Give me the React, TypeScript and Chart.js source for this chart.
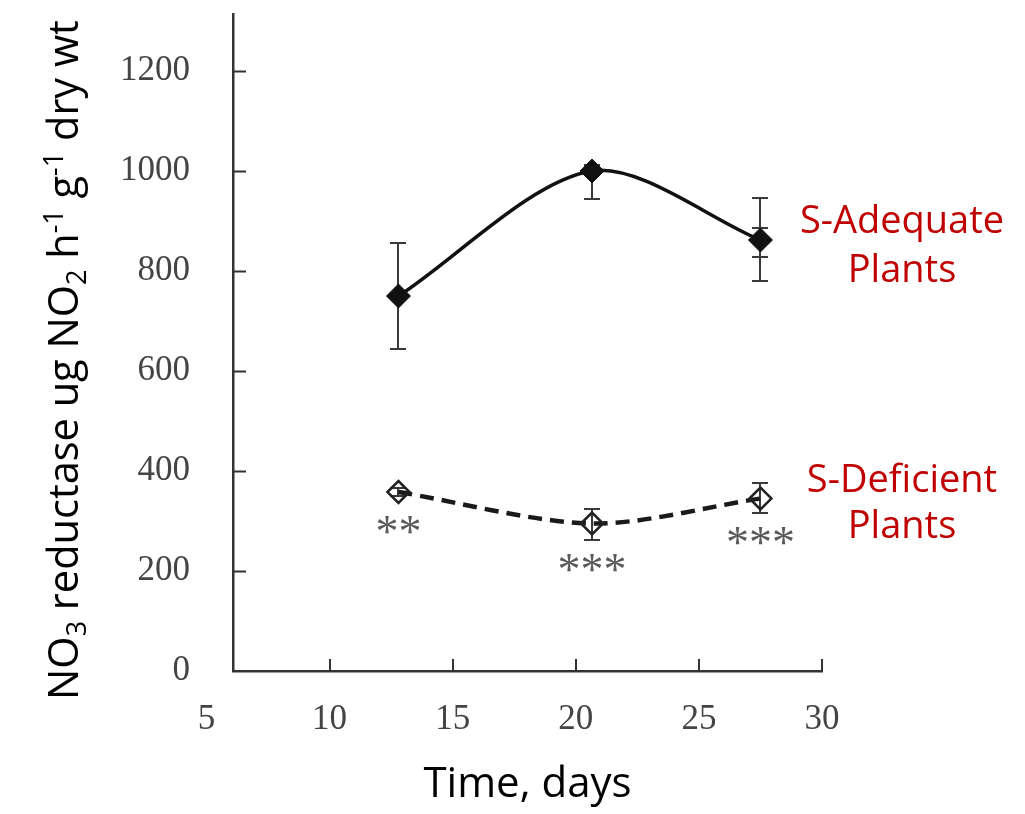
import React, { useEffect, useRef } from 'react';
import { Chart, registerables } from 'chart.js';

Chart.register(...registerables);

// ---------------- data ----------------
const days = [12.8, 20.66, 27.5];
const adequateMean = [750, 1000, 862];
const adequateLow = [644, 944, 780];
const adequateHigh = [857, 1012, 946];
const adequateInnerLow = [null, null, 828];
const adequateInnerHigh = [null, null, 886];
const deficientMean = [358, 295, 345];
const deficientLow = [350, 262, 316];
const deficientHigh = [366, 324, 377];
const significance = ['**', '***', '***'];
const xTickValues = [5, 10, 15, 20, 25, 30];
const yTickValues = [0, 200, 400, 600, 800, 1000, 1200];
const adequateLabel = ['S-Adequate', 'Plants'];
const deficientLabel = ['S-Deficient', 'Plants'];

// ---------------- layout constants ----------------
const W = 1025;
const H = 814;
const X_MIN = 6.08;
const X_MAX = 30;
const Y_MAX = 1314;
const LABEL_BASELINES_ADEQ = [876, 778];
const LABEL_BASELINES_DEF = [359, 266];
const SANS = '"Open Sans", "Noto Sans", sans-serif';
const SERIF = '"Liberation Serif", "Times New Roman", serif';

const yTitleParts: { t: string; s: number }[] = [
  { t: 'NO', s: 0 },
  { t: '3', s: -1 },
  { t: ' reductase ug NO', s: 0 },
  { t: '2', s: -1 },
  { t: ' h', s: 0 },
  { t: '-1', s: 1 },
  { t: ' g', s: 0 },
  { t: '-1', s: 1 },
  { t: ' dry wt', s: 0 },
];

const decorPlugin = {
  id: 'decor',
  beforeDatasetsDraw(chart: any) {
    const ctx = chart.ctx;
    const xs = chart.scales.x;
    const ys = chart.scales.y;
    const cap = 8;
    const drawBar = (x: number, lo: number, hi: number) => {
      const px = Math.round(xs.getPixelForValue(x));
      const pl = Math.round(ys.getPixelForValue(lo));
      const ph = Math.round(ys.getPixelForValue(hi));
      ctx.beginPath();
      ctx.moveTo(px, pl);
      ctx.lineTo(px, ph);
      ctx.moveTo(px - cap, pl);
      ctx.lineTo(px + cap, pl);
      ctx.moveTo(px - cap, ph);
      ctx.lineTo(px + cap, ph);
      ctx.stroke();
    };
    ctx.save();
    ctx.strokeStyle = '#3a3a3a';
    ctx.lineWidth = 2;
    days.forEach((d, j) => {
      drawBar(d, adequateLow[j], adequateHigh[j]);
      if (adequateInnerLow[j] != null && adequateInnerHigh[j] != null) {
        drawBar(d, adequateInnerLow[j] as number, adequateInnerHigh[j] as number);
      }
      drawBar(d, deficientLow[j], deficientHigh[j]);
    });
    ctx.restore();
  },
  afterDraw(chart: any) {
    const ctx = chart.ctx;
    const xs = chart.scales.x;
    const ys = chart.scales.y;
    const area = chart.chartArea;
    ctx.save();
    // inward tick marks
    ctx.strokeStyle = '#333';
    ctx.lineWidth = 2;
    ctx.beginPath();
    yTickValues.forEach((v) => {
      if (v === 0) return;
      const py = Math.round(ys.getPixelForValue(v)) + 0.5;
      ctx.moveTo(area.left, py);
      ctx.lineTo(area.left + 13, py);
    });
    xTickValues.forEach((v) => {
      if (v < X_MIN) return;
      const px = Math.round(xs.getPixelForValue(v));
      ctx.moveTo(px, area.bottom);
      ctx.lineTo(px, area.bottom - 12);
    });
    ctx.stroke();

    // significance stars
    ctx.fillStyle = '#5a5a5a';
    ctx.font = `46px ${SERIF}`;
    ctx.textAlign = 'left';
    ctx.textBaseline = 'alphabetic';
    const m = ctx.measureText('*');
    const gw = m.actualBoundingBoxRight + m.actualBoundingBoxLeft;
    const gh = m.actualBoundingBoxAscent + m.actualBoundingBoxDescent;
    days.forEach((d, j) => {
      const px = xs.getPixelForValue(d);
      const below = Math.max(ys.getPixelForValue(deficientLow[j]), ys.getPixelForValue(deficientMean[j]) + 10);
      const cy = below + 23;
      const s = significance[j];
      const spacing = 23;
      for (let k = 0; k < s.length; k++) {
        const cx = px - ((s.length - 1) * spacing) / 2 + k * spacing;
        // centre glyph bbox on (cx, cy)
        const left = cx - gw / 2 + m.actualBoundingBoxLeft;
        const base = cy - gh / 2 + m.actualBoundingBoxAscent;
        ctx.fillText('*', left, base);
      }
    });

    // series labels
    ctx.fillStyle = '#C00000';
    ctx.font = `38px ${SANS}`;
    ctx.textAlign = 'center';
    ctx.textBaseline = 'alphabetic';
    const lx = area.right + 80;
    adequateLabel.forEach((t, i) => ctx.fillText(t, lx, ys.getPixelForValue(LABEL_BASELINES_ADEQ[i])));
    deficientLabel.forEach((t, i) => ctx.fillText(t, lx, ys.getPixelForValue(LABEL_BASELINES_DEF[i])));

    // y-axis title with sub/superscripts
    const baseSize = 40;
    const measure = (size: number) => {
      let total = 0;
      yTitleParts.forEach((p) => {
        ctx.font = `${p.s === 0 ? size : size * 0.65}px ${SANS}`;
        total += ctx.measureText(p.t).width;
      });
      return total;
    };
    const size = (baseSize * 680) / measure(baseSize);
    const total = measure(size);
    ctx.save();
    ctx.translate(78, 360);
    ctx.rotate(-Math.PI / 2);
    ctx.fillStyle = '#000';
    ctx.textAlign = 'left';
    let x = -total / 2;
    yTitleParts.forEach((p) => {
      const fs = p.s === 0 ? size : size * 0.65;
      ctx.font = `${fs}px ${SANS}`;
      const dy = p.s === -1 ? size * 0.2 : p.s === 1 ? -size * 0.36 : 0;
      ctx.fillText(p.t, x, dy);
      x += ctx.measureText(p.t).width;
    });
    ctx.restore();
    ctx.restore();
  },
};

export default function App() {
  const ref = useRef<HTMLCanvasElement | null>(null);
  useEffect(() => {
    if (!ref.current) return;
    const chart = new Chart(ref.current, {
      type: 'line',
      data: {
        datasets: [
          {
            label: 'S-Adequate',
            data: days.map((d, i) => ({ x: d, y: adequateMean[i] })),
            borderColor: '#111',
            borderWidth: 3.5,
            tension: 0.3,
            fill: false,
            pointStyle: 'rectRot',
            pointRadius: 12,
            pointBackgroundColor: '#111',
            pointBorderColor: '#111',
            pointBorderWidth: 1,
          },
          {
            label: 'S-Deficient',
            data: days.map((d, i) => ({ x: d, y: deficientMean[i] })),
            borderColor: '#1a1a1a',
            borderWidth: 4.5,
            borderDash: [14, 8],
            tension: 0.3,
            fill: false,
            pointStyle: 'rectRot',
            pointRadius: 11,
            pointBackgroundColor: 'rgba(255,255,255,0)',
            pointBorderColor: '#222',
            pointBorderWidth: 2.5,
          },
        ],
      },
      options: {
        animation: false,
        responsive: false,
        events: [],
        layout: { padding: { left: 0, top: 14, right: W - 822, bottom: 0 } },
        plugins: { legend: { display: false }, tooltip: { enabled: false } },
        scales: {
          x: {
            type: 'linear',
            min: X_MIN,
            max: X_MAX,
            bounds: 'data',
            afterBuildTicks: (s: any) => {
              s.ticks = xTickValues.map((v) => ({ value: v }));
            },
            afterFit: (s: any) => {
              s.height = H - 671;
              s.paddingLeft = 0;
              s.paddingRight = 0;
            },
            grid: { display: false, drawTicks: false },
            border: { display: true, color: '#333', width: 2.5 },
            ticks: {
              color: '#444',
              font: { family: SERIF, size: 35 },
              padding: 28,
              maxRotation: 0,
              autoSkip: false,
              callback: (v: any) => String(v),
            },
            title: {
              display: true,
              text: 'Time, days',
              color: '#000',
              font: { family: SANS, size: 42 },
              padding: { top: 0, bottom: 4 },
            },
          },
          y: {
            type: 'linear',
            min: 0,
            max: Y_MAX,
            bounds: 'data',
            afterBuildTicks: (s: any) => {
              s.ticks = yTickValues.map((v) => ({ value: v }));
            },
            afterFit: (s: any) => {
              s.width = 233;
              s.paddingTop = 0;
              s.paddingBottom = 0;
            },
            grid: { display: false, drawTicks: false },
            border: { display: true, color: '#333', width: 2.5 },
            ticks: {
              color: '#444',
              font: { family: SERIF, size: 35 },
              padding: 43,
              callback: (v: any) => String(v),
            },
          },
        },
      } as any,
      plugins: [decorPlugin],
    });
    return () => chart.destroy();
  }, []);
  return (
    <div style={{ position: 'fixed', left: 0, top: 0, width: W, height: H, background: '#fff' }}>
      <canvas ref={ref} width={W} height={H} style={{ display: 'block' }} />
    </div>
  );
}
